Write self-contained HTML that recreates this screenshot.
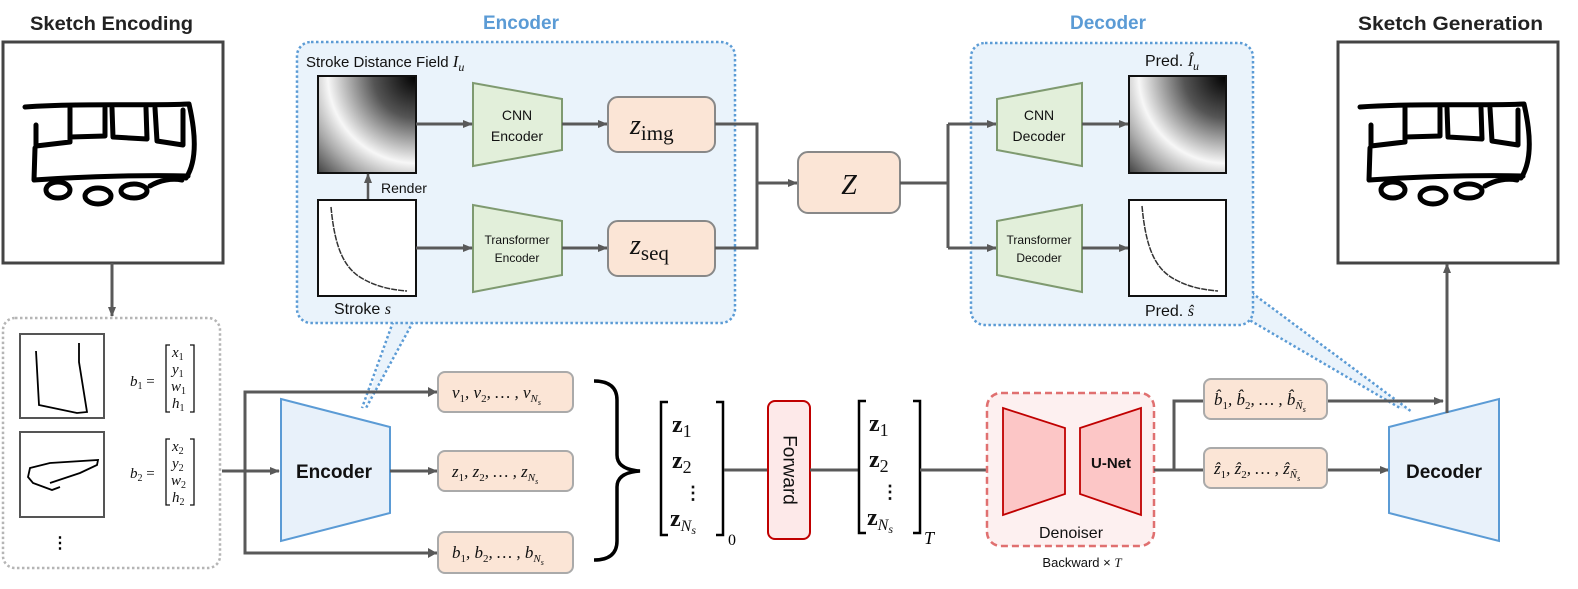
<!DOCTYPE html>
<html><head><meta charset="utf-8"><style>
html,body{margin:0;padding:0;background:#fff;}
svg{display:block;}
.t{font-family:"Liberation Sans Narrow","Liberation Sans",sans-serif;}
.m{font-family:"Liberation Serif",serif;font-style:italic;}
.b{font-family:"Liberation Serif",serif;font-weight:bold;}
</style></head><body>
<svg width="1578" height="589" viewBox="0 0 1578 589" xmlns="http://www.w3.org/2000/svg">
<defs>
<marker id="ar" markerWidth="10" markerHeight="10" refX="9" refY="5" orient="auto" markerUnits="userSpaceOnUse"><path d="M0,1 L10,5 L0,9 z" fill="#595959"/></marker>
<radialGradient id="sdf" cx="1" cy="0" r="1.45">
<stop offset="0" stop-color="#000"/><stop offset="0.3" stop-color="#555"/><stop offset="0.62" stop-color="#f7f7f7"/><stop offset="0.78" stop-color="#aaa"/><stop offset="1" stop-color="#333"/>
</radialGradient>
<g id="bus" fill="none" stroke="#000" stroke-width="5" stroke-linecap="round" stroke-linejoin="round">
<path d="M25,107 C80,103 150,106 189,104 C195,130 198,160 186,178"/>
<path d="M36,125 L36,146 L70,142 L70,108 M70,137 L105,136 L105,108 M112,108 L113,137 L147,139 L146,108 M155,108 L157,141 L183,145 L183,110"/>
<path d="M35,148 L34,180 C90,176 150,175 188,176"/>
<ellipse cx="58" cy="190" rx="12" ry="8"/><ellipse cx="98" cy="196" rx="13" ry="8"/><ellipse cx="134" cy="191" rx="13" ry="7"/><path d="M150,186 C160,180 172,178 182,180"/>
</g>
</defs>

<text class="t" x="30" y="30" font-size="19" font-weight="bold" fill="#222" textLength="163" lengthAdjust="spacingAndGlyphs">Sketch Encoding</text>
<text class="t" x="1358" y="30" font-size="19" font-weight="bold" fill="#222" textLength="185" lengthAdjust="spacingAndGlyphs">Sketch Generation</text>
<text class="t" x="521" y="29" font-size="19" font-weight="bold" text-anchor="middle" fill="#5b9bd5">Encoder</text>
<text class="t" x="1108" y="29" font-size="19" font-weight="bold" text-anchor="middle" fill="#5b9bd5">Decoder</text>

<rect x="3" y="42" width="220" height="221" fill="#fff" stroke="#444" stroke-width="3"/>
<use href="#bus"/>
<rect x="1338" y="42" width="220" height="221" fill="#fff" stroke="#444" stroke-width="3"/>
<use href="#bus" x="1335"/>
<line x1="112" y1="263" x2="112" y2="316" stroke="#595959" stroke-width="3" marker-end="url(#ar)"/>

<polygon points="393,322 413,322 365,408" fill="#eaf3fb"/>
<path d="M393,322 L362,408 M413,322 L366,408" stroke="#5b9bd5" stroke-width="2.5" stroke-dasharray="2.5,2.5" fill="none"/>
<polygon points="1252,293 1246,318 1400,408 1412,412" fill="#eaf3fb"/>
<path d="M1252,293 L1412,412 M1246,318 L1400,408" stroke="#5b9bd5" stroke-width="2.5" stroke-dasharray="2.5,2.5" fill="none"/>

<rect x="297" y="42" width="438" height="281" rx="14" fill="#eaf3fb" stroke="#5b9bd5" stroke-width="2.5" stroke-dasharray="2.5,2.5"/>
<text class="t" x="306" y="67" font-size="15" fill="#111">Stroke Distance Field <tspan class="m" font-size="17">I</tspan><tspan class="m" font-size="12" dy="4">u</tspan></text>
<rect x="318" y="76" width="98" height="97" fill="url(#sdf)" stroke="#111" stroke-width="2"/>
<rect x="318" y="200" width="98" height="96" fill="#fff" stroke="#111" stroke-width="2"/>
<path d="M331,207 C335,250 345,270 365,280 C380,288 395,290 407,291" fill="none" stroke="#333" stroke-width="1.5" stroke-dasharray="6,1"/>
<line x1="368" y1="199" x2="368" y2="174" stroke="#595959" stroke-width="2.5" marker-end="url(#ar)"/>
<text class="t" x="381" y="193" font-size="14" fill="#111">Render</text>
<text class="t" x="334" y="314" font-size="16" fill="#111">Stroke <tspan class="m">s</tspan></text>
<polygon points="473,83 562,99 562,150 473,166" fill="#e2efda" stroke="#7f9a70" stroke-width="2"/>
<text class="t" x="517" y="120" font-size="14" text-anchor="middle" fill="#111">CNN</text>
<text class="t" x="517" y="141" font-size="14" text-anchor="middle" fill="#111">Encoder</text>
<polygon points="473,205 562,221 562,275 473,292" fill="#e2efda" stroke="#7f9a70" stroke-width="2"/>
<text class="t" x="517" y="244" font-size="12" text-anchor="middle" fill="#111">Transformer</text>
<text class="t" x="517" y="262" font-size="12" text-anchor="middle" fill="#111">Encoder</text>
<line x1="416" y1="124" x2="472" y2="124" stroke="#595959" stroke-width="3" marker-end="url(#ar)"/>
<line x1="416" y1="248" x2="472" y2="248" stroke="#595959" stroke-width="3" marker-end="url(#ar)"/>
<line x1="562" y1="124" x2="607" y2="124" stroke="#595959" stroke-width="3" marker-end="url(#ar)"/>
<line x1="562" y1="248" x2="607" y2="248" stroke="#595959" stroke-width="3" marker-end="url(#ar)"/>
<rect x="608" y="97" width="107" height="55" rx="10" fill="#fbe5d6" stroke="#888" stroke-width="2"/>
<text class="m" x="630" y="134" font-size="28" fill="#111">z<tspan font-style="normal" font-size="21" dy="6">img</tspan></text>
<rect x="608" y="221" width="107" height="55" rx="10" fill="#fbe5d6" stroke="#888" stroke-width="2"/>
<text class="m" x="630" y="254" font-size="28" fill="#111">z<tspan font-style="normal" font-size="21" dy="6">seq</tspan></text>
<path d="M715,124 L757,124 L757,248 L715,248" fill="none" stroke="#595959" stroke-width="3"/>
<line x1="757" y1="183" x2="797" y2="183" stroke="#595959" stroke-width="3" marker-end="url(#ar)"/>

<rect x="798" y="152" width="102" height="61" rx="10" fill="#fbe5d6" stroke="#888" stroke-width="2"/>
<text class="m" x="849" y="194" font-size="28" text-anchor="middle" fill="#111">Z</text>
<line x1="900" y1="183" x2="948" y2="183" stroke="#595959" stroke-width="3"/>
<line x1="948" y1="124" x2="948" y2="248" stroke="#595959" stroke-width="3"/>

<rect x="971" y="43" width="282" height="282" rx="14" fill="#eaf3fb" stroke="#5b9bd5" stroke-width="2.5" stroke-dasharray="2.5,2.5"/>
<line x1="948" y1="124" x2="996" y2="124" stroke="#595959" stroke-width="3" marker-end="url(#ar)"/>
<line x1="948" y1="248" x2="996" y2="248" stroke="#595959" stroke-width="3" marker-end="url(#ar)"/>
<polygon points="997,99 1082,83 1082,166 997,150" fill="#e2efda" stroke="#7f9a70" stroke-width="2"/>
<text class="t" x="1039" y="120" font-size="14" text-anchor="middle" fill="#111">CNN</text>
<text class="t" x="1039" y="141" font-size="14" text-anchor="middle" fill="#111">Decoder</text>
<polygon points="997,221 1082,205 1082,292 997,275" fill="#e2efda" stroke="#7f9a70" stroke-width="2"/>
<text class="t" x="1039" y="244" font-size="12" text-anchor="middle" fill="#111">Transformer</text>
<text class="t" x="1039" y="262" font-size="12" text-anchor="middle" fill="#111">Decoder</text>
<line x1="1082" y1="124" x2="1128" y2="124" stroke="#595959" stroke-width="3" marker-end="url(#ar)"/>
<line x1="1082" y1="248" x2="1128" y2="248" stroke="#595959" stroke-width="3" marker-end="url(#ar)"/>
<rect x="1129" y="76" width="97" height="97" fill="url(#sdf)" stroke="#111" stroke-width="2"/>
<rect x="1129" y="200" width="97" height="96" fill="#fff" stroke="#111" stroke-width="2"/>
<path d="M1142,206 C1146,250 1156,270 1176,280 C1191,288 1206,290 1218,291" fill="none" stroke="#333" stroke-width="1.5" stroke-dasharray="6,1"/>
<text class="t" x="1145" y="66" font-size="16" fill="#111">Pred. <tspan class="m">Î</tspan><tspan class="m" font-size="12" dy="4">u</tspan></text>
<text class="t" x="1145" y="316" font-size="16" fill="#111">Pred. <tspan class="m">ŝ</tspan></text>

<rect x="3" y="318" width="217" height="250" rx="12" fill="#fff" stroke="#b5b5b5" stroke-width="2.5" stroke-dasharray="2.5,2.5"/>
<rect x="20" y="334" width="84" height="84" fill="#fff" stroke="#555" stroke-width="2"/>
<path d="M36,351 L39,405 L77,413 L87,412 L79,362 L79,343" fill="none" stroke="#000" stroke-width="1.8"/>
<rect x="20" y="432" width="84" height="85" fill="#fff" stroke="#555" stroke-width="2"/>
<path d="M50,483 L80,473 L97,465 L98,460 L50,463 L30,468 L28,477 L33,483 L52,490 L60,487" fill="none" stroke="#000" stroke-width="1.8"/>
<text class="b" x="60" y="548" font-size="16" text-anchor="middle">⋮</text>
<g class="m" font-size="15" fill="#111">
<text x="130" y="386">b<tspan font-style="normal" font-size="10" dy="3">1</tspan><tspan font-style="normal" dy="-3"> =</tspan></text>
<text x="130" y="478">b<tspan font-style="normal" font-size="10" dy="3">2</tspan><tspan font-style="normal" dy="-3"> =</tspan></text>
<text x="172" y="357">x<tspan font-style="normal" font-size="10" dy="3">1</tspan></text>
<text x="172" y="374">y<tspan font-style="normal" font-size="10" dy="3">1</tspan></text>
<text x="171" y="391">w<tspan font-style="normal" font-size="10" dy="3">1</tspan></text>
<text x="172" y="408">h<tspan font-style="normal" font-size="10" dy="3">1</tspan></text>
<text x="172" y="451">x<tspan font-style="normal" font-size="10" dy="3">2</tspan></text>
<text x="172" y="468">y<tspan font-style="normal" font-size="10" dy="3">2</tspan></text>
<text x="171" y="485">w<tspan font-style="normal" font-size="10" dy="3">2</tspan></text>
<text x="172" y="502">h<tspan font-style="normal" font-size="10" dy="3">2</tspan></text>
</g>
<path d="M170,345 L166,345 L166,412 L170,412 M190,345 L194,345 L194,412 L190,412 M170,439 L166,439 L166,505 L170,505 M190,439 L194,439 L194,505 L190,505" fill="none" stroke="#111" stroke-width="1.3"/>

<line x1="222" y1="471" x2="279" y2="471" stroke="#595959" stroke-width="3" marker-end="url(#ar)"/>
<path d="M437,392 L245,392 L245,553 L437,553" fill="none" stroke="#595959" stroke-width="3"/>
<path d="M428,387 L437,392 L428,397 z M428,548 L437,553 L428,558 z" fill="#595959"/>
<polygon points="281,399 390,427 390,513 281,541" fill="#e8f1fa" stroke="#5b9bd5" stroke-width="2"/>
<text class="t" x="334" y="478" font-size="19" font-weight="bold" text-anchor="middle" fill="#111">Encoder</text>
<line x1="390" y1="471" x2="437" y2="471" stroke="#595959" stroke-width="3" marker-end="url(#ar)"/>
<g fill="#fbe5d6" stroke="#aaa" stroke-width="2">
<rect x="438" y="372" width="135" height="40" rx="7"/>
<rect x="438" y="451" width="135" height="40" rx="7"/>
<rect x="438" y="532" width="135" height="41" rx="7"/>
</g>
<g class="m" font-size="17" fill="#111">
<text x="452" y="398">v<tspan font-style="normal" font-size="11" dy="4">1</tspan><tspan dy="-4">, v</tspan><tspan font-style="normal" font-size="11" dy="4">2</tspan><tspan dy="-4">, … , v</tspan><tspan font-size="11" dy="4">N</tspan><tspan font-size="8" dy="3">s</tspan></text>
<text x="452" y="477">z<tspan font-style="normal" font-size="11" dy="4">1</tspan><tspan dy="-4">, z</tspan><tspan font-style="normal" font-size="11" dy="4">2</tspan><tspan dy="-4">, … , z</tspan><tspan font-size="11" dy="4">N</tspan><tspan font-size="8" dy="3">s</tspan></text>
<text x="452" y="558">b<tspan font-style="normal" font-size="11" dy="4">1</tspan><tspan dy="-4">, b</tspan><tspan font-style="normal" font-size="11" dy="4">2</tspan><tspan dy="-4">, … , b</tspan><tspan font-size="11" dy="4">N</tspan><tspan font-size="8" dy="3">s</tspan></text>
</g>
<path d="M594,381 C610,381 617,388 617,400 L617,455 C617,465 625,470 640,471 C625,472 617,477 617,487 L617,541 C617,553 610,560 594,560" fill="none" stroke="#000" stroke-width="3.5"/>

<path d="M668,402 L661,402 L661,535 L668,535 M716,402 L723,402 L723,535 L716,535" fill="none" stroke="#000" stroke-width="2.5"/>
<g class="b" font-size="24" fill="#111">
<text x="672" y="432">z<tspan font-weight="normal" font-size="18" dy="5">1</tspan></text>
<text x="672" y="468">z<tspan font-weight="normal" font-size="18" dy="5">2</tspan></text>
<text x="684" y="499" font-size="18">⋮</text>
<text x="670" y="526">z<tspan class="m" font-weight="normal" font-size="16" dy="5">N</tspan><tspan class="m" font-weight="normal" font-size="12" dy="3">s</tspan></text>
</g>
<text x="728" y="545" font-family="Liberation Serif,serif" font-size="16">0</text>
<line x1="724" y1="470" x2="768" y2="470" stroke="#595959" stroke-width="3"/>
<rect x="768" y="401" width="42" height="138" rx="7" fill="#fde9e9" stroke="#c00000" stroke-width="2"/>
<text class="t" x="789" y="470" font-size="19" text-anchor="middle" dominant-baseline="central" transform="rotate(90 789 470)" fill="#111">Forward</text>
<line x1="810" y1="470" x2="858" y2="470" stroke="#595959" stroke-width="3"/>

<path d="M866,401 L859,401 L859,533 L866,533 M913,401 L920,401 L920,533 L913,533" fill="none" stroke="#000" stroke-width="2.5"/>
<g class="b" font-size="24" fill="#111">
<text x="869" y="431">z<tspan font-weight="normal" font-size="18" dy="5">1</tspan></text>
<text x="869" y="467">z<tspan font-weight="normal" font-size="18" dy="5">2</tspan></text>
<text x="881" y="498" font-size="18">⋮</text>
<text x="867" y="525">z<tspan class="m" font-weight="normal" font-size="16" dy="5">N</tspan><tspan class="m" font-weight="normal" font-size="12" dy="3">s</tspan></text>
</g>
<text class="m" x="924" y="544" font-size="18">T</text>
<line x1="920" y1="470" x2="987" y2="470" stroke="#595959" stroke-width="3"/>

<rect x="987" y="393" width="167" height="153" rx="14" fill="#fdf0f0" stroke="#e07070" stroke-width="2.5" stroke-dasharray="7,4"/>
<polygon points="1003,408 1065,428 1065,494 1003,515" fill="#fcc6c6" stroke="#c00000" stroke-width="1.8"/>
<polygon points="1080,428 1141,408 1141,515 1080,494" fill="#fcc6c6" stroke="#c00000" stroke-width="1.8"/>
<text class="t" x="1111" y="468" font-size="15" font-weight="bold" text-anchor="middle" fill="#111">U-Net</text>
<text class="t" x="1071" y="538" font-size="16" text-anchor="middle" fill="#111">Denoiser</text>
<text class="t" x="1082" y="567" font-size="13" text-anchor="middle" fill="#111">Backward × <tspan class="m">T</tspan></text>

<path d="M1154,470 L1174,470 L1174,401 L1204,401" fill="none" stroke="#595959" stroke-width="3"/>
<line x1="1174" y1="470" x2="1204" y2="470" stroke="#595959" stroke-width="3"/>
<line x1="1327" y1="401" x2="1443" y2="401" stroke="#595959" stroke-width="3" marker-end="url(#ar)"/>
<line x1="1327" y1="470" x2="1389" y2="470" stroke="#595959" stroke-width="3" marker-end="url(#ar)"/>
<g fill="#fbe5d6" stroke="#aaa" stroke-width="2">
<rect x="1204" y="379" width="123" height="40" rx="7"/>
<rect x="1204" y="448" width="123" height="40" rx="7"/>
</g>
<g class="m" font-size="17" fill="#111">
<text x="1214" y="405">b̂<tspan font-style="normal" font-size="11" dy="4">1</tspan><tspan dy="-4">, b̂</tspan><tspan font-style="normal" font-size="11" dy="4">2</tspan><tspan dy="-4">, … , b̂</tspan><tspan font-size="11" dy="4">Ñ</tspan><tspan font-size="8" dy="3">s</tspan></text>
<text x="1214" y="474">ẑ<tspan font-style="normal" font-size="11" dy="4">1</tspan><tspan dy="-4">, ẑ</tspan><tspan font-style="normal" font-size="11" dy="4">2</tspan><tspan dy="-4">, … , ẑ</tspan><tspan font-size="11" dy="4">Ñ</tspan><tspan font-size="8" dy="3">s</tspan></text>
</g>
<polygon points="1389,427 1499,399 1499,541 1389,513" fill="#e8f1fa" stroke="#5b9bd5" stroke-width="2"/>
<text class="t" x="1444" y="478" font-size="19" font-weight="bold" text-anchor="middle" fill="#111">Decoder</text>
<line x1="1447" y1="413" x2="1447" y2="264" stroke="#595959" stroke-width="3" marker-end="url(#ar)"/>
</svg>
</body></html>
